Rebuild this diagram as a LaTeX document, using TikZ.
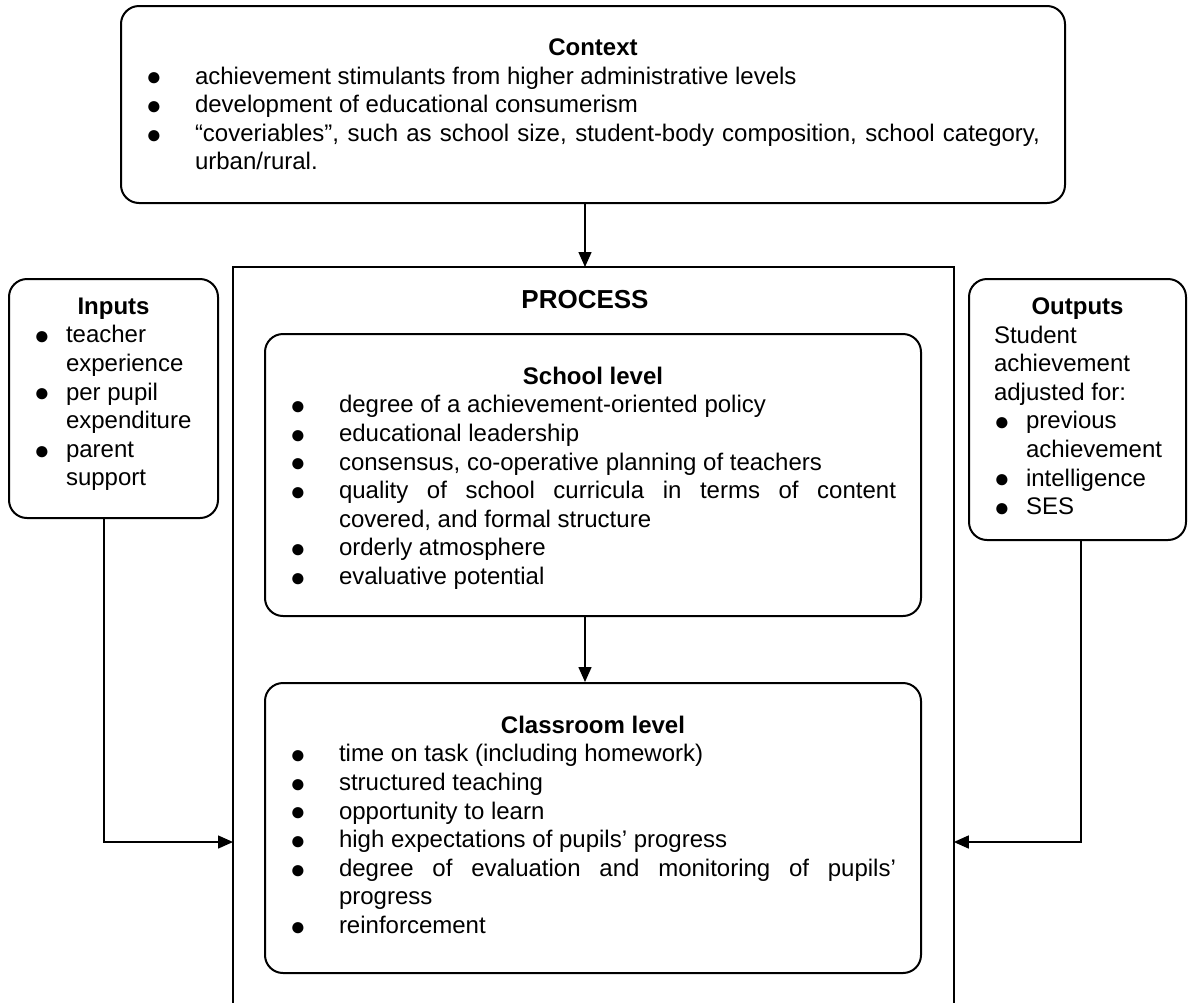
\documentclass[tikz,border=0pt]{standalone}
\usepackage{fontspec}
\setmainfont{Liberation Sans}[WordSpace={1,1,0}]
\usetikzlibrary{arrows.meta}

\newlength{\itemhang}
\newcommand{\bul}{\raisebox{-0.9pt}{\fontsize{13}{13}\selectfont ●}}
\newcommand{\li}[1]{\par\hangindent=\itemhang\hangafter=1\noindent\makebox[\itemhang][l]{\bul}#1}
\newcommand{\boxhead}[1]{{\centering\textbf{#1}\par}}
\newcommand{\boxtext}[4]{\parbox[c][#2][t]{#1}{\tolerance=9999\hbadness=10000\hyphenpenalty=10000\vspace*{#3}#4}}

\begin{document}
\begin{tikzpicture}[x=0.5pt, y=-0.5pt,
  font=\fontsize{12}{14.3}\selectfont,
  rbox/.style={draw, line width=1pt, rounded corners=9pt, inner xsep=12.5pt, inner ysep=0pt, anchor=north west},
  wide/.style={rbox, execute at begin node={\setlength{\itemhang}{24.5pt}}},
  narrow/.style={rbox, execute at begin node={\setlength{\itemhang}{16pt}}},
  arr/.style={line width=0.75pt, -{Triangle[width=6.5pt,length=7.5pt]}}]
\useasboundingbox (0,0) rectangle (1193,1002);

% context on top
\node[wide] (context) at (120,5) {\boxtext{447pt}{98.5pt}{16.4pt}{%
  \boxhead{Context}
  \li{achievement stimulants from higher administrative levels}
  \li{development of educational consumerism}
  \li{“coveriables”, such as school size, student-body composition, school category, urban/rural.}}};

% inputs and outputs
\node[narrow] (inputs) at (8,278) {\boxtext{79.5pt}{119.5pt}{9.4pt}{\raggedright
  \boxhead{Inputs}
  \li{teacher experience}
  \li{per pupil expenditure}
  \li{parent support}}};
\node[narrow] (outputs) at (968,278) {\boxtext{83.5pt}{130.5pt}{9.4pt}{\raggedright
  \boxhead{Outputs}
  Student achievement adjusted for:
  \li{previous achievement}
  \li{intelligence}
  \li{SES}}};

% process, open at the bottom
\node[anchor=north west, minimum width=360pt, minimum height=367.5pt, inner sep=0pt] (process) at (233,267) {};
\draw[line width=0.9pt] (process.south west) -- (process.north west) -- (process.north east) -- (process.south east);
\node[font=\fontsize{13}{15}\selectfont\bfseries] (ptitle) at (585,300) {PROCESS};

\node[wide] (school) at (264,333) {\boxtext{303pt}{141pt}{16.4pt}{%
  \boxhead{School level}
  \li{degree of a achievement-oriented policy}
  \li{educational leadership}
  \li{consensus, co-operative planning of teachers}
  \li{quality of school curricula in terms of content covered, and formal structure}
  \li{orderly atmosphere}
  \li{evaluative potential}}};
\node[wide] (classroom) at (264,682) {\boxtext{303pt}{145pt}{16.4pt}{%
  \boxhead{Classroom level}
  \li{time on task (including homework)}
  \li{structured teaching}
  \li{opportunity to learn}
  \li{high expectations of pupils’ progress}
  \li{degree of evaluation and monitoring of pupils’ progress}
  \li{reinforcement}}};

% connectors
\draw[arr] (context.south -| 585,0) -- (process.north -| 585,0);
\draw[arr] (school.south -| 585,0) -- (classroom.north -| 585,0);
\draw[arr] (inputs.south -| 104,0) |- (process.west |- 0,842);
\draw[arr] (outputs.south -| 1081,0) |- (process.east |- 0,842);
\end{tikzpicture}
\end{document}
